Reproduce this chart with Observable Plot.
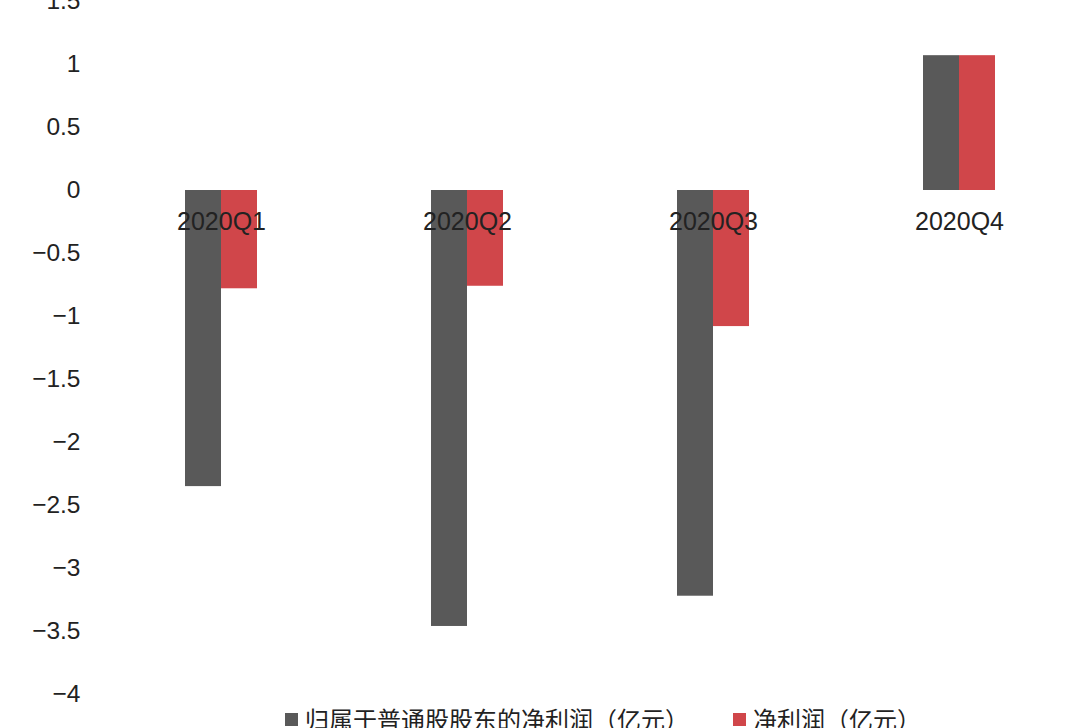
<!DOCTYPE html>
<html>
<head>
<meta charset="utf-8">
<script src="https://cdn.jsdelivr.net/npm/d3@7"></script>
<script src="https://cdn.jsdelivr.net/npm/@observablehq/plot@0.6"></script>
<style>
  html, body { margin: 0; padding: 0; background: #fff; overflow: hidden; }
  body { width: 1080px; height: 728px; font-family: "Liberation Sans", "Noto Sans CJK SC", sans-serif; }
  #legend { position: relative; height: 28px; font-size: 24px; color: #222; font-family: "Noto Sans CJK SC", sans-serif; line-height: 28px; }
  .sw { width: 13px; height: 13px; display: inline-block; margin-right: 7px; }
  .item { position: absolute; top: 0; display: flex; align-items: center; white-space: nowrap; }
</style>
</head>
<body>
<div id="chart"></div>
<div id="legend"></div>
<script>
const quarters = ["2020Q1", "2020Q2", "2020Q3", "2020Q4"];
const seriesNames = ["归属于普通股股东的净利润（亿元）", "净利润（亿元）"];
const parentProfit = [-2.35, -3.46, -3.22, 1.07];
const netProfit = [-0.78, -0.76, -1.08, 1.07];
const yTicks = [-4, -3.5, -3, -2.5, -2, -1.5, -1, -0.5, 0, 0.5, 1, 1.5];
const colors = ["#595959", "#d0464a"];

const parentData = quarters.map((q, i) => ({quarter: q, value: parentProfit[i]}));
const netData = quarters.map((q, i) => ({quarter: q, value: netProfit[i]}));

const chart = Plot.plot({
  width: 1080,
  height: 705,
  marginTop: 1,
  marginBottom: 11,
  marginLeft: 184,
  marginRight: 85,
  style: {fontFamily: "Liberation Sans, Noto Sans CJK SC, sans-serif", overflow: "visible"},
  x: {domain: quarters, paddingInner: 0.708, paddingOuter: 0, axis: null},
  y: {domain: [-4, 1.5], axis: null},
  marks: [
    Plot.barY(parentData, {x: "quarter", y: "value", fill: colors[0], insetRight: 36}),
    Plot.barY(netData, {x: "quarter", y: "value", fill: colors[1], insetLeft: 36}),
    Plot.text(quarters, {x: d => d, y: () => 0, dy: 31, text: d => d, fontSize: 25, fill: "#222"}),
    Plot.text(yTicks, {frameAnchor: "left", y: d => d, text: d => String(d).replace("-", "\u2212"), textAnchor: "end", dx: -104, fontSize: 24.5, fill: "#222"})
  ]
});
document.getElementById("chart").appendChild(chart);

const legend = document.getElementById("legend");
const legendLefts = [285, 733];
seriesNames.forEach((name, i) => {
  const item = document.createElement("div");
  item.className = "item";
  item.style.left = legendLefts[i] + "px";
  const sw = document.createElement("span");
  sw.className = "sw";
  sw.style.background = colors[i];
  const t = document.createElement("span");
  t.textContent = name;
  item.appendChild(sw);
  item.appendChild(t);
  legend.appendChild(item);
});
</script>
</body>
</html>
